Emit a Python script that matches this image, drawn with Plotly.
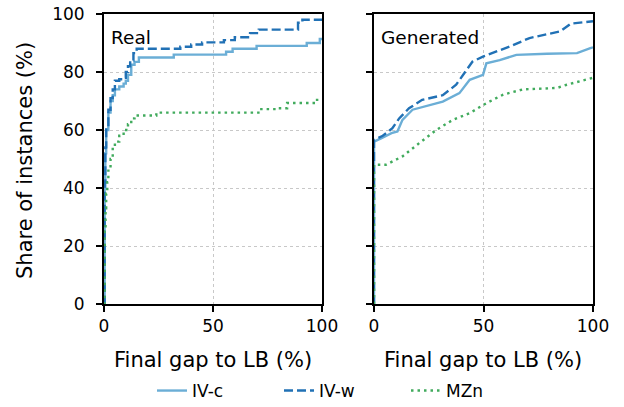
import plotly.graph_objects as go

# ---- data ----
real_ivc_x = [0, 0.3, 0.6, 1, 2, 3, 4, 5, 7, 9, 10, 11, 12.5, 14, 16, 32, 56, 59, 70, 93, 99, 100]
real_ivc_y = [0, 40, 52, 60, 66, 70, 72, 74, 75, 76, 77, 79, 82.5, 83.5, 85, 86, 87, 88, 89, 90, 91.4, 91.4]

real_ivw_x = [0, 0.3, 0.6, 1, 2, 3, 4, 5, 7, 8.5, 10, 11, 12, 13.5, 15, 30, 35, 40, 45, 55, 60, 67, 71, 85, 89, 91, 100]
real_ivw_y = [0, 42, 54, 61, 67, 71, 74, 77, 77.5, 78, 80, 82, 84, 86.5, 88, 88, 88.7, 89.5, 90.2, 91, 92, 93.4, 94.6, 94.6, 97, 98, 98]

real_mzn_x = [0, 0.3, 0.7, 1, 1.5, 2, 3, 4, 5, 7, 9, 11, 12.5, 14, 24, 70, 71.5, 80, 84, 97, 100]
real_mzn_y = [0, 25, 33, 38, 42, 46, 50, 54, 56, 58, 60, 62, 64, 65, 66, 66, 67.2, 67.5, 69.3, 70.4, 70.4]

gen_ivc_x = [0, 0, 3, 8, 10.7, 13, 17.6, 25, 31.4, 39, 43.7, 49.8, 51.3, 57.4, 65, 79, 92.7, 98.8, 100]
gen_ivc_y = [0, 56, 57, 58.9, 59.5, 63.5, 67, 68.4, 69.8, 72.7, 77.3, 79, 83, 84.1, 85.9, 86.3, 86.5, 88.2, 88.5]

gen_ivw_x = [0, 0, 4, 8.4, 11.5, 16, 22, 31.4, 37.5, 45, 50, 62, 71, 85, 90, 100]
gen_ivw_y = [0, 56.6, 58, 60.6, 64, 67.5, 70.4, 72, 75.6, 83.6, 85.4, 88.8, 91.7, 94, 96.7, 97.5]

gen_mzn_x = [0, 0, 5.4, 13, 20.7, 28.4, 36, 43.7, 51.4, 59, 68, 83.6, 88, 100]
gen_mzn_y = [0, 48, 48, 50.9, 55.5, 60, 63.5, 65.8, 69.3, 72.2, 74, 74.5, 75.6, 78]

series_names = ["IV-c", "IV-w", "MZn"]
panel_titles = ["Real", "Generated"]
x_ticks = [0, 50, 100]
y_ticks = [0, 20, 40, 60, 80, 100]

colors = ["#6baed6", "#2171b5", "#41ab5d"]
dashes = ["solid", "9px,4px", "2.5px,4px"]

FONT = "DejaVu Sans"
W, H = 624, 407

fig = go.Figure()

real = [(real_ivc_x, real_ivc_y), (real_ivw_x, real_ivw_y), (real_mzn_x, real_mzn_y)]
gen = [(gen_ivc_x, gen_ivc_y), (gen_ivw_x, gen_ivw_y), (gen_mzn_x, gen_mzn_y)]

for i, (xs, ys) in enumerate(real):
    fig.add_trace(go.Scatter(x=xs, y=ys, mode="lines", name=series_names[i],
                             line=dict(color=colors[i], width=2.4, dash=dashes[i], shape="hv"),
                             xaxis="x", yaxis="y", showlegend=True, legendrank=i))
for i, (xs, ys) in enumerate(gen):
    fig.add_trace(go.Scatter(x=xs, y=ys, mode="lines", name=series_names[i],
                             line=dict(color=colors[i], width=2.4, dash=dashes[i]),
                             xaxis="x2", yaxis="y2", showlegend=False))

ydom = [(H - 304) / H, (H - 14) / H]
axcommon = dict(range=[0, 100], showline=True, mirror=True, linecolor="black", linewidth=2,
                ticks="outside", ticklen=6, tickwidth=2, tickcolor="black", automargin=False,
                showgrid=True, gridcolor="#c8c8c8", gridwidth=1, griddash="dot",
                zeroline=False, tickfont=dict(family=FONT, size=17, color="black"))

fig.update_layout(
    width=W, height=H,
    margin=dict(l=0, r=0, t=0, b=0, autoexpand=False),
    paper_bgcolor="white", plot_bgcolor="white",
    font=dict(family=FONT, color="black"),
    xaxis=dict(domain=[104 / W, 322 / W], anchor="y", tickvals=x_ticks, **axcommon),
    yaxis=dict(domain=ydom, anchor="x", tickvals=y_ticks, ticklabelstandoff=8, **axcommon),
    xaxis2=dict(domain=[374 / W, 593 / W], anchor="y2", tickvals=x_ticks, **axcommon),
    yaxis2=dict(domain=ydom, anchor="x2", tickvals=y_ticks, showticklabels=False, **axcommon),
    legend=dict(orientation="h", xref="container", yref="container",
                x=152 / W, y=(H - 391) / H, xanchor="left", yanchor="middle",
                font=dict(family=FONT, size=17, color="black"), entrywidth=82,
                entrywidthmode="pixels", bgcolor="rgba(0,0,0,0)", tracegroupgap=0),
    annotations=[
        dict(text=panel_titles[0], x=109 / W, y=(H - 37) / H, xref="paper", yref="paper",
             xanchor="left", yanchor="middle", showarrow=False, font=dict(family=FONT, size=18.5)),
        dict(text=panel_titles[1], x=379 / W, y=(H - 37) / H, xref="paper", yref="paper",
             xanchor="left", yanchor="middle", showarrow=False, font=dict(family=FONT, size=18.5)),
        dict(text="Share of instances (%)", x=25 / W, y=(H - 161) / H, xref="paper", yref="paper",
             xanchor="center", yanchor="middle", textangle=-90, showarrow=False,
             font=dict(family=FONT, size=21)),
        dict(text="Final gap to LB (%)", x=213 / W, y=(H - 360) / H, xref="paper", yref="paper",
             xanchor="center", yanchor="middle", showarrow=False, font=dict(family=FONT, size=21)),
        dict(text="Final gap to LB (%)", x=483 / W, y=(H - 360) / H, xref="paper", yref="paper",
             xanchor="center", yanchor="middle", showarrow=False, font=dict(family=FONT, size=21)),
    ],
)

fig.write_html("out.html")
